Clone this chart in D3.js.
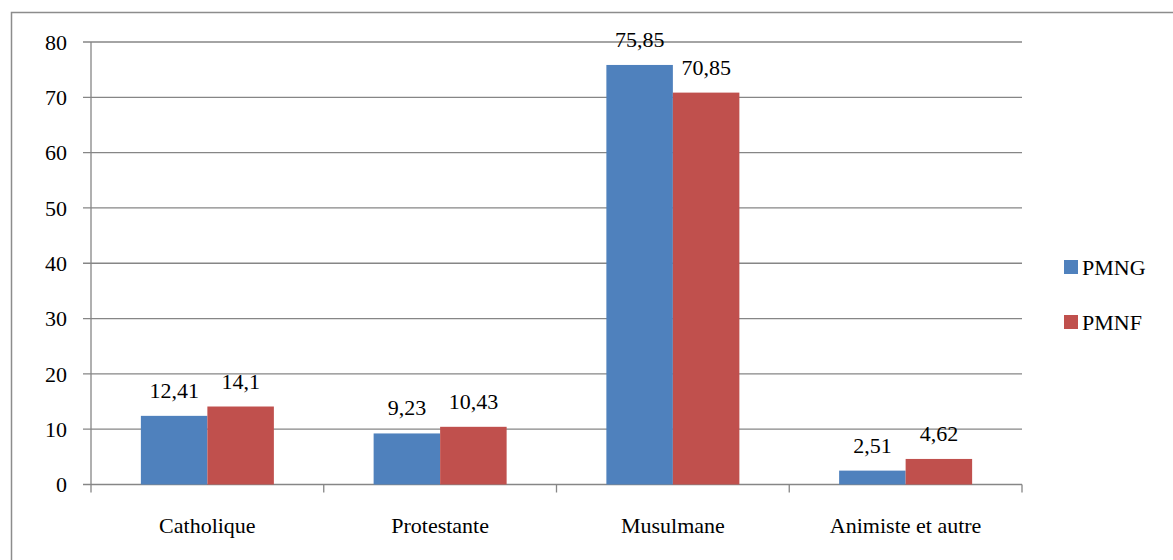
<!DOCTYPE html>
<html><head><meta charset="utf-8">
<script src="https://cdn.jsdelivr.net/npm/d3@7"></script>
</head><body style="margin:0">
<script>
const categories = ["Catholique", "Protestante", "Musulmane", "Animiste et autre"];
const seriesNames = ["PMNG", "PMNF"];
const PMNG = [12.41, 9.23, 75.85, 2.51];
const PMNF = [14.1, 10.43, 70.85, 4.62];
const PMNGLabels = ["12,41", "9,23", "75,85", "2,51"];
const PMNFLabels = ["14,1", "10,43", "70,85", "4,62"];
const yTicks = [0, 10, 20, 30, 40, 50, 60, 70, 80];
const colors = ["#4F81BD", "#C0504D"];

(function () {
const W = 1173, H = 560;
const FAM = '"Liberation Serif", Tinos, "Times New Roman", Times, serif';
const svg = d3.select("body").append("svg").attr("width", W).attr("height", H)
  .style("display", "block").style("font-family", FAM);
const setFont = sel => sel.style("font-family", FAM).style("font-size", "22px").attr("fill", "#000");

// outer border
svg.append("rect").attr("x", 11.5).attr("y", 12.5).attr("width", W).attr("height", H)
  .attr("fill", "none").attr("stroke", "#8c8c8c").attr("stroke-width", 1.5);

const pLeft = 91, pRight = 1022, pTop = 42, pBottom = 484.5;
const x = d3.scaleBand().domain(categories).range([pLeft, pRight]).paddingInner(0).paddingOuter(0);
const y = d3.scaleLinear().domain([0, 80]).range([pBottom, pTop]);
const grid = "#868686";

// gridlines
svg.append("g").selectAll("line").data(yTicks).join("line")
  .attr("x1", pLeft - 8).attr("x2", pRight)
  .attr("y1", d => y(d)).attr("y2", d => y(d))
  .attr("stroke", grid).attr("stroke-width", 1.3);

// y axis line
svg.append("line").attr("x1", pLeft).attr("x2", pLeft).attr("y1", pTop).attr("y2", pBottom + 8)
  .attr("stroke", grid).attr("stroke-width", 1.3);

// x tick marks at band boundaries
const bounds = categories.map(c => x(c)).concat([pRight]);
svg.append("g").selectAll("line").data(bounds.slice(1)).join("line")
  .attr("x1", d => d).attr("x2", d => d).attr("y1", pBottom).attr("y2", pBottom + 8)
  .attr("stroke", grid).attr("stroke-width", 1.3);

// y tick labels
svg.append("g").selectAll("text").data(yTicks).join("text")
  .attr("x", 67).attr("y", d => y(d)).attr("dy", "0.35em")
  .attr("text-anchor", "end")
  .call(setFont)
  .text(d => d);

// bars
const inner = d3.scaleBand().domain(seriesNames).range([0, x.bandwidth()]).paddingOuter(0.75).paddingInner(0);
const series = [PMNG, PMNF];
const labels = [PMNGLabels, PMNFLabels];
series.forEach((vals, si) => {
  const g = svg.append("g");
  g.selectAll("rect").data(vals).join("rect")
    .attr("x", (d, i) => x(categories[i]) + inner(seriesNames[si]))
    .attr("y", d => y(d))
    .attr("width", inner.bandwidth())
    .attr("height", d => y(0) - y(d))
    .attr("fill", colors[si]);
  g.selectAll("text").data(vals).join("text")
    .attr("x", (d, i) => x(categories[i]) + inner(seriesNames[si]) + inner.bandwidth() / 2)
    .attr("y", d => y(d) - 18)
    .attr("text-anchor", "middle")
    .call(setFont)
    .text((d, i) => labels[si][i]);
});

// category labels
svg.append("g").selectAll("text").data(categories).join("text")
  .attr("x", d => x(d) + x.bandwidth() / 2).attr("y", 533)
  .attr("text-anchor", "middle")
  .call(setFont)
  .text(d => d);

// legend
const leg = svg.append("g");
seriesNames.forEach((n, i) => {
  const ly = 267 + i * 55;
  leg.append("rect").attr("x", 1064).attr("y", ly - 7).attr("width", 14).attr("height", 14).attr("fill", colors[i]);
  leg.append("text").attr("x", 1082).attr("y", ly).attr("dy", "0.35em").call(setFont).text(n);
});
})();
</script>
</body></html>
